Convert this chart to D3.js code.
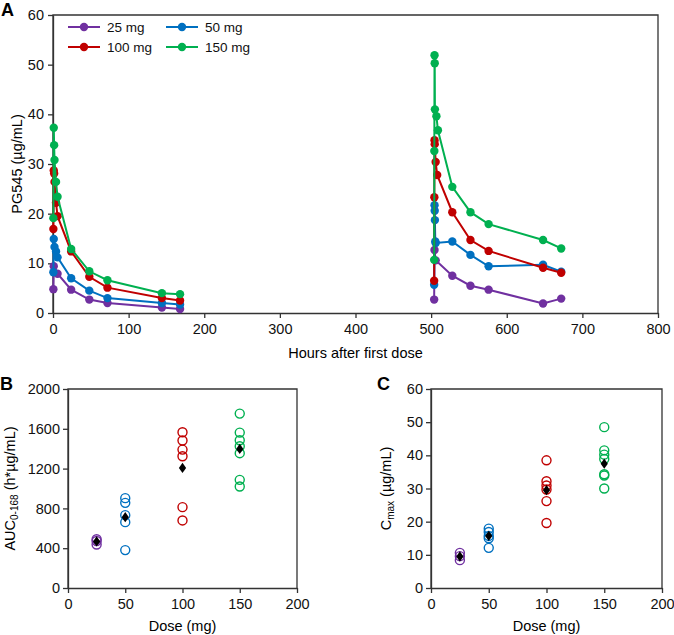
<!DOCTYPE html>
<html><head><meta charset="utf-8">
<script src="https://cdn.jsdelivr.net/npm/d3@7"></script>
<style>
body{margin:0;background:#fff;}
svg{font-family:"Liberation Sans",Arial,sans-serif;}
</style></head>
<body><svg id="chart" width="674" height="635"></svg>
<script>
// ---------- DATA ----------
const doseLabels = ["25 mg", "50 mg", "100 mg", "150 mg"];
const doses = [25, 50, 100, 150];

// Panel A: concentration-time (hours after first dose, µg/mL)
const t25 = [0.5,1,6,24,48,72,144,168, 504,504.5,506,528,552,576,648,672];
const c25 = [4.8,9.4,7.9,4.7,2.7,2.0,1.1,0.8, 2.7,12.7,10.6,7.5,5.5,4.7,1.9,2.9];
const t50 = [0.5,1,2,4,6,24,48,72,144,168, 504,504.5,504.75,505,505.5,506,528,552,576,648,672];
const c50 = [8.2,14.9,13.3,12.4,11.2,7.0,4.5,3.0,2.0,1.7, 5.7,21.7,20.6,18.7,14.4,14.1,14.4,11.7,9.4,9.7,8.3];
const t100 = [0.5,1,1.5,2,4,6,24,48,72,144,168, 504,504.25,504.5,504.75,506,508,528,552,576,648,672];
const c100 = [16.9,28.7,28.1,26.4,22.2,19.5,12.4,7.3,5.1,3.0,2.5, 6.5,23.3,34.8,34.0,30.4,27.8,20.3,14.7,12.5,9.1,8.1];
const t150 = [0.5,1,1.5,2,4,6,24,48,72,144,168, 504,504.25,504.5,504.75,505,507,509,528,552,576,648,672];
const c150 = [19.1,37.3,33.8,30.8,26.4,23.4,12.9,8.4,6.6,4.0,3.8, 10.7,32.6,51.9,50.3,41.0,39.6,36.8,25.4,20.3,17.9,14.7,13.0];

const hourTicks = [0,100,200,300,400,500,600,700,800];
const concTicks = [0,10,20,30,40,50,60];

// Panel B: AUC0-168 (h*µg/mL)
const auc25 = [490,472,437];
const auc50 = [903,856,732,662,381];
const auc100 = [1565,1482,1391,1324,813,679];
const auc150 = [1753,1562,1485,1425,1355,1087,1020];
const aucMean = [468,712,1207,1398];
const aucTicks = [0,400,800,1200,1600,2000];

// Panel C: Cmax (µg/mL)
const cmax25 = [10.6,9.6,8.4];
const cmax50 = [17.9,16.9,15.7,15.0,12.1];
const cmax100 = [38.5,32.2,30.9,29.7,26.2,19.6];
const cmax150 = [48.5,41.5,40.2,38.9,34.3,33.9,30.0];
const cmaxMean = [9.5,15.7,29.5,37.5];
const cmaxTicks = [0,10,20,30,40,50,60];
const doseTicks = [0,50,100,150,200];

// ---------- STYLE ----------
const colors = ["#7030A0", "#0070C0", "#C00000", "#00B050"];
const axisColor = "#333";
const fs = 14.5;
const fmt = d3.format("d");

const svg = d3.select("#chart");

function styleAxis(g){
  g.selectAll("path").attr("stroke", axisColor).attr("stroke-width", 1.3);
  g.selectAll("line").attr("stroke", axisColor).attr("stroke-width", 1.3);
  g.selectAll("text").attr("font-size", fs).attr("fill", "#111").attr("font-family", "Liberation Sans, Arial, sans-serif");
}
function frame(x0, x1, y0, y1){
  svg.append("path")
    .attr("d", `M${x0},${y1}L${x0},${y0}L${x1},${y0}L${x1},${y1}`)
    .attr("fill", "none").attr("stroke", axisColor).attr("stroke-width", 1.3);
}

// ---------- PANEL A ----------
const A = {l:53, r:658, t:15, b:313};
const xA = d3.scaleLinear().domain([0,800]).range([A.l, A.r]);
const yA = d3.scaleLinear().domain([0,60]).range([A.b, A.t]);
frame(A.l, A.r, A.t, A.b);
svg.append("g").attr("transform", `translate(0,${A.b})`)
  .call(d3.axisBottom(xA).tickValues(hourTicks).tickFormat(fmt).tickSize(5).tickSizeOuter(0).tickPadding(6)).call(styleAxis);
svg.append("g").attr("transform", `translate(${A.l},0)`)
  .call(d3.axisLeft(yA).tickValues(concTicks).tickFormat(fmt).tickSize(5).tickSizeOuter(0).tickPadding(4)).call(styleAxis);

const seriesA = [[t25,c25],[t50,c50],[t100,c100],[t150,c150]];
const line = d3.line().x(d => xA(d[0])).y(d => yA(d[1]));
seriesA.forEach(([ts, cs], i) => {
  const pts = ts.map((t, k) => [t, cs[k]]);
  const seg1 = pts.filter(p => p[0] < 300);
  const seg2 = pts.filter(p => p[0] >= 300);
  [seg1, seg2].forEach(seg => {
    svg.append("path").attr("d", line(seg)).attr("fill", "none")
      .attr("stroke", colors[i]).attr("stroke-width", 2);
  });
  svg.append("g").selectAll("circle").data(pts).join("circle")
    .attr("cx", d => xA(d[0])).attr("cy", d => yA(d[1])).attr("r", 4.2)
    .attr("fill", colors[i]);
});

// legend
const legPos = [[68,27],[166,27],[68,47],[166,47]];
doseLabels.forEach((lab, i) => {
  const [lx, ly] = legPos[i];
  const g = svg.append("g");
  g.append("line").attr("x1", lx).attr("x2", lx+32).attr("y1", ly).attr("y2", ly)
    .attr("stroke", colors[i]).attr("stroke-width", 2);
  g.append("circle").attr("cx", lx+16).attr("cy", ly).attr("r", 4.2).attr("fill", colors[i]);
  g.append("text").attr("x", lx+39).attr("y", ly).attr("dy", "0.35em")
    .attr("font-size", 13.5).attr("fill", "#111").text(lab);
});

svg.append("text").attr("transform", `translate(17,${(A.t+A.b)/2}) rotate(-90)`)
  .attr("text-anchor", "middle").attr("dy", "0.35em").attr("font-size", fs).text("PG545 (µg/mL)");
svg.append("text").attr("x", (A.l+A.r)/2).attr("y", 353).attr("dy", "0.35em")
  .attr("text-anchor", "middle").attr("font-size", fs).text("Hours after first dose");
svg.append("text").attr("x", 1).attr("y", 16).attr("font-size", 18).attr("font-weight", "bold").text("A");

// ---------- PANELS B & C ----------
function scatterPanel(P, yMax, yTicks, groups, means, label, labelX, titleParts, titleX){
  const x = d3.scaleLinear().domain([0,200]).range([P.l, P.r]);
  const y = d3.scaleLinear().domain([0,yMax]).range([P.b, P.t]);
  frame(P.l, P.r, P.t, P.b);
  svg.append("g").attr("transform", `translate(0,${P.b})`)
    .call(d3.axisBottom(x).tickValues(doseTicks).tickFormat(fmt).tickSize(5).tickSizeOuter(0).tickPadding(6)).call(styleAxis);
  svg.append("g").attr("transform", `translate(${P.l},0)`)
    .call(d3.axisLeft(y).tickValues(yTicks).tickFormat(fmt).tickSize(5).tickSizeOuter(0).tickPadding(3)).call(styleAxis);
  groups.forEach((vals, i) => {
    svg.append("g").selectAll("circle").data(vals).join("circle")
      .attr("cx", x(doses[i])).attr("cy", d => y(d)).attr("r", 4.5)
      .attr("fill", "none").attr("stroke", colors[i]).attr("stroke-width", 1.4);
  });
  const diamond = d3.symbol().type(d3.symbolDiamond).size(34);
  svg.append("g").selectAll("path").data(means).join("path")
    .attr("d", diamond)
    .attr("transform", (d, i) => `translate(${x(doses[i])},${y(d)}) scale(1.15,0.95)`)
    .attr("fill", "#000");
  svg.append("text").attr("x", (P.l+P.r)/2).attr("y", 626).attr("dy", "0.35em")
    .attr("text-anchor", "middle").attr("font-size", fs).text("Dose (mg)");
  const t = svg.append("text").attr("transform", `translate(${titleX},${(P.t+P.b)/2}) rotate(-90)`)
    .attr("text-anchor", "middle").attr("dy", "0.35em").attr("font-size", fs);
  t.append("tspan").text(titleParts[0]);
  t.append("tspan").attr("font-size", 10).attr("dy", 3).text(titleParts[1]);
  t.append("tspan").attr("dy", -3).text(titleParts[2]);
  svg.append("text").attr("x", labelX).attr("y", 390).attr("font-size", 18).attr("font-weight", "bold").text(label);
}

scatterPanel({l:68, r:297, t:389, b:588}, 2000, aucTicks,
  [auc25, auc50, auc100, auc150], aucMean, "B", 0, ["AUC", "0-168", " (h*µg/mL)"], 10);
scatterPanel({l:431, r:662, t:389, b:588}, 60, cmaxTicks,
  [cmax25, cmax50, cmax100, cmax150], cmaxMean, "C", 377, ["C", "max", " (µg/mL)"], 386);
</script>
</body></html>
